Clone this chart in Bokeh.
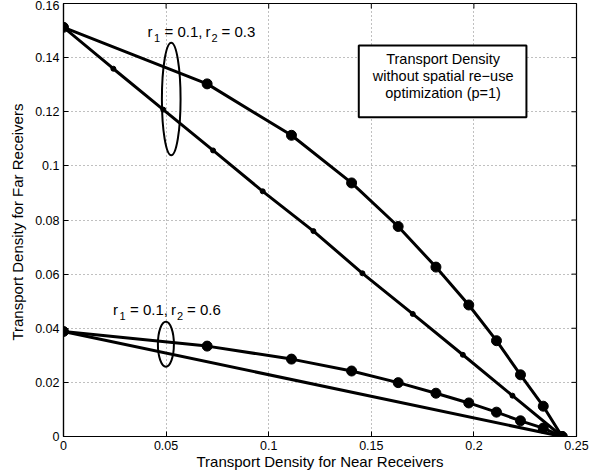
import math
from bokeh.plotting import figure
from bokeh.models import Range1d, FixedTicker, Label, BoxAnnotation
from bokeh.embed import file_html
from bokeh.resources import INLINE

# Upper family (r1 = 0.1, r2 = 0.3)
opt03_x = [0.0, 0.070, 0.1111, 0.1404, 0.1631, 0.1815, 0.1975, 0.2110, 0.2227, 0.2338, 0.2430]
opt03_y = [0.1512, 0.1303, 0.1113, 0.0937, 0.0776, 0.0626, 0.0486, 0.0354, 0.0228, 0.0112, 0.0]
lin03_x = [0.0, 0.0243, 0.0486, 0.0729, 0.0971, 0.1218, 0.1457, 0.1702, 0.1946, 0.2188, 0.2430]
lin03_y = [0.1512, 0.1359, 0.1208, 0.1057, 0.0906, 0.0759, 0.0603, 0.0453, 0.0302, 0.0151, 0.0]

# Lower family (r1 = 0.1, r2 = 0.6)
opt06_x = [0.0, 0.070, 0.1111, 0.1404, 0.1631, 0.1815, 0.1975, 0.2110, 0.2227, 0.2338, 0.2430]
opt06_y = [0.0388, 0.0334, 0.0286, 0.0242, 0.0199, 0.0160, 0.0124, 0.0090, 0.0058, 0.0031, 0.0]
lin06_x = [0.0, 0.2430]
lin06_y = [0.0388, 0.0]

x_ticks = [0, 0.05, 0.1, 0.15, 0.2, 0.25]
x_tick_labels = ["0", "0.05", "0.1", "0.15", "0.2", "0.25"]
y_ticks = [0, 0.02, 0.04, 0.06, 0.08, 0.1, 0.12, 0.14, 0.16]
y_tick_labels = ["0", "0.02", "0.04", "0.06", "0.08", "0.1", "0.12", "0.14", "0.16"]

box_lines = ["Transport Density", "without spatial re\u2212use", "optimization (p=1)"]

FONT = "Liberation Sans"
X0, X1, Y0, Y1 = 0, 0.25, 0, 0.16

p = figure(width=602, height=476, x_range=Range1d(X0, X1), y_range=Range1d(Y0, Y1),
           output_backend="svg", toolbar_location=None,
           min_border_left=63, min_border_right=26, min_border_top=3, min_border_bottom=40)
p.background_fill_color = "white"
p.border_fill_color = "white"
p.outline_line_color = "black"
p.outline_line_width = 1.2

for ax in (p.xaxis[0], p.yaxis[0]):
    ax.major_tick_in = 5
    ax.major_tick_out = 0
    ax.minor_tick_line_color = None
    ax.axis_line_width = 1.2
    ax.major_tick_line_width = 1
    ax.major_label_text_font = FONT
    ax.major_label_text_font_size = "12.5px"
    ax.major_label_text_color = "black"
    ax.axis_label_text_font = FONT
    ax.axis_label_text_font_size = "15px"
    ax.axis_label_text_font_style = "normal"
    ax.axis_label_text_color = "black"

p.xaxis[0].ticker = FixedTicker(ticks=x_ticks)
p.xaxis[0].major_label_overrides = {t: l for t, l in zip(x_ticks, x_tick_labels)}
p.yaxis[0].ticker = FixedTicker(ticks=y_ticks)
p.yaxis[0].major_label_overrides = {t: l for t, l in zip(y_ticks, y_tick_labels)}
p.xaxis[0].axis_label = "Transport Density for Near Receivers"
p.yaxis[0].axis_label = "Transport Density for Far  Receivers"
p.xaxis[0].major_label_standoff = 4
p.xaxis[0].axis_label_standoff = 0
p.yaxis[0].major_label_standoff = 4
p.yaxis[0].axis_label_standoff = 6

# inward ticks on top and right edges (half of each dash is clipped by the frame)
p.scatter(x_ticks, [Y1] * len(x_ticks), marker="dash", size=10, angle=math.pi / 2,
          line_color="black", line_width=1)
p.scatter([X1] * len(y_ticks), y_ticks, marker="dash", size=10, angle=0,
          line_color="black", line_width=1)

p.xgrid.ticker = FixedTicker(ticks=x_ticks)
p.ygrid.ticker = FixedTicker(ticks=y_ticks)
for g in (p.xgrid[0], p.ygrid[0]):
    g.grid_line_color = "#808080"
    g.grid_line_dash = "1 3"
    g.grid_line_width = 1

LW = 3
p.line(lin03_x, lin03_y, line_color="black", line_width=LW)
p.scatter(lin03_x, lin03_y, size=5, fill_color="black", line_color="black")
p.line(opt03_x, opt03_y, line_color="black", line_width=LW)
p.scatter(opt03_x, opt03_y, size=10, fill_color="black", line_color="black")

p.line(lin06_x, lin06_y, line_color="black", line_width=LW)
p.line(opt06_x, opt06_y, line_color="black", line_width=LW)
p.scatter(opt06_x, opt06_y, size=10, fill_color="black", line_color="black")

# Ellipses grouping curve pairs
p.ellipse(x=[0.0525, 0.0499], y=[0.1247, 0.0341], width=[0.0091, 0.0078], height=[0.0416, 0.0166],
          fill_color=None, line_color="black", line_width=2)


def r_label(x, y, r2):
    parts = [("r", 0, 0, "15px"), ("1", 6.5, -6.5, "11px"), ("= 0.1,", 17, 0, "15px"),
             ("r", 58, 0, "15px"), ("2", 64, -6.5, "11px"), ("= " + r2, 74, 0, "15px")]
    for txt, dx, dy, fs in parts:
        p.add_layout(Label(x=x, y=y, x_offset=dx, y_offset=dy, text=txt, text_font=FONT,
                           text_font_size=fs, text_color="black", text_align="left",
                           text_baseline="alphabetic"))


r_label(0.04094, 0.1496, "0.3")
r_label(0.02412, 0.04707, "0.6")

p.add_layout(BoxAnnotation(left=0.1439, right=0.2256, bottom=0.118, top=0.1445,
                           fill_color="white", fill_alpha=1, line_color="black", line_alpha=1,
                           line_width=2))
for txt, yy in zip(box_lines, [0.1395, 0.1333, 0.1270]):
    p.add_layout(Label(x=0.1850, y=yy, text=txt, text_font=FONT, text_font_size="14.5px",
                       text_color="black", text_align="center", text_baseline="middle"))

open("out.html", "w").write(file_html(p, INLINE))
